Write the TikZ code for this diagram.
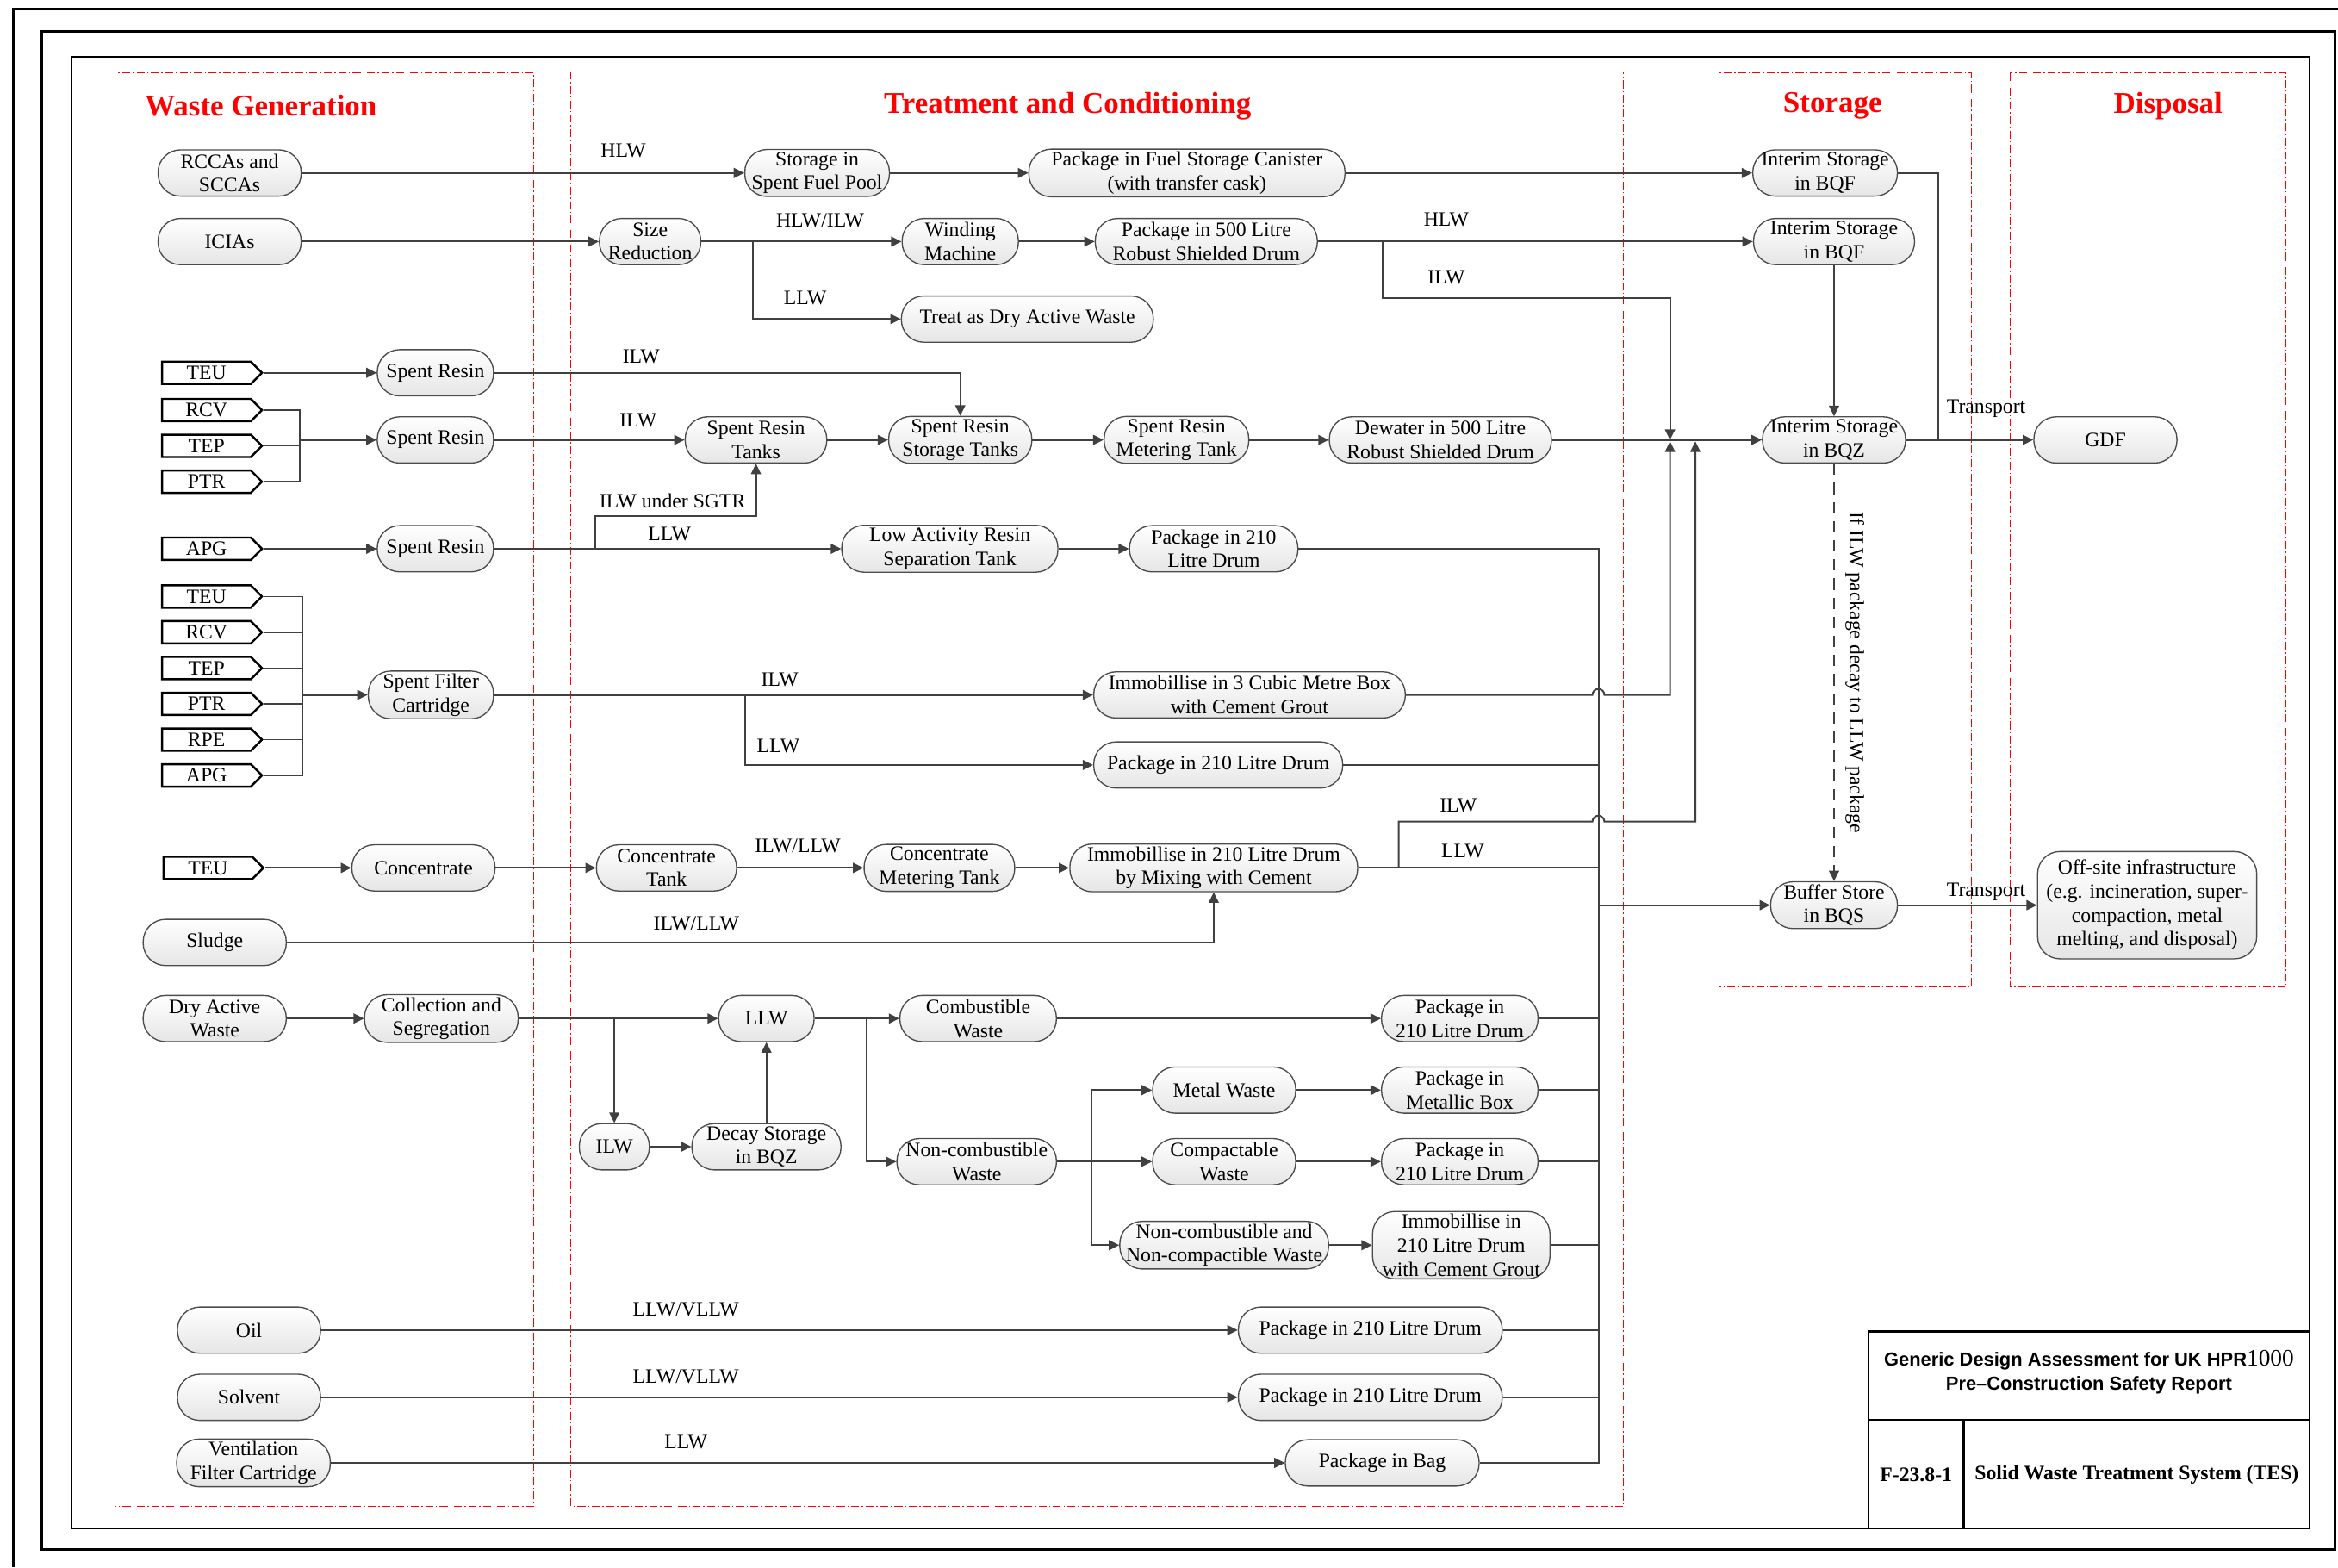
\documentclass[tikz,border=0pt]{standalone}
\usepackage{fontspec}
\setmainfont{Liberation Serif}
\newfontfamily\arialfont{Liberation Sans}
\usetikzlibrary{shapes.symbols,arrows.meta}
\newcommand\flowfont{\fontsize{7.8}{9.1}\selectfont}
\newcommand\zonefont{\bfseries\fontsize{11.5}{13}\selectfont}
\begin{document}
\begin{tikzpicture}[x=0.02cm,y=-0.02cm,>={Stealth[length=4pt,width=3.8pt,inset=0pt]},
  proc/.style={draw=black!70,line width=0.45pt,rounded corners=0.3cm,top color=white,bottom color=black!10,
    align=center,inner sep=1pt,minimum height=0.62cm,font=\flowfont},
  srctag/.style={shape=signal,signal to=east,draw,line width=0.8pt,fill=white,anchor=west,
    minimum width=1.34cm,minimum height=0.3cm,inner sep=0pt,font=\flowfont},
  lbl/.style={inner sep=1pt,font=\flowfont},
  flow/.style={draw=black!75,line width=0.65pt},
  feed/.style={draw=black!75,line width=0.45pt},
  zone/.style={draw=red,line width=0.35pt,dash pattern=on 3pt off 1pt on 0.5pt off 1pt},
  zonetitle/.style={text=red,font=\zonefont}]
  \useasboundingbox (0,0) rectangle (1568,1051);
  \draw[line width=1.1pt] (9,1051) -- (9,6) -- (1568,6);
  \draw[line width=1.1pt] (28,21) rectangle (1566,1039);
  \draw[line width=0.5pt] (48,38) rectangle (1549,1025);

  \draw[zone] (77,49) rectangle (358,1010);
  \draw[zone] (383,48) rectangle (1089,1010);
  \draw[zone] (1153,49) rectangle (1322,662);
  \draw[zone] (1348,49) rectangle (1533,662);
  \node[zonetitle] (tgen) at (175,71) {Waste Generation};
  \node[zonetitle] (ttreat) at (716,71) {Treatment and Conditioning};
  \node[zonetitle] (tstore) at (1229,71) {Storage};
  \node[zonetitle] (tdisp) at (1454,71) {Disposal};

  \node[proc,minimum width=1.92cm] (rccas) at (154,116) {RCCAs and\\SCCAs};
  \node[proc,minimum width=1.94cm] (spf) at (548,116) {Storage in\\Spent Fuel Pool};
  \node[proc,minimum width=4.24cm] (fsc) at (796,116) {Package in Fuel Storage Canister\\(with transfer cask)};
  \node[proc,minimum width=1.94cm] (bqf1) at (1224,116) {Interim Storage\\in BQF};

  \node[proc,minimum width=1.92cm] (icias) at (154,162) {ICIAs};
  \node[proc,minimum width=1.36cm] (sizered) at (436,162) {Size\\Reduction};
  \node[proc,minimum width=1.56cm] (winding) at (644,162) {Winding\\Machine};
  \node[proc,minimum width=2.98cm] (pkg500) at (809,162) {Package in 500 Litre\\Robust Shielded Drum};
  \node[proc,minimum width=2.16cm] (bqf2) at (1230,162) {Interim Storage\\in BQF};
  \node[proc,minimum width=3.38cm] (treat) at (689,214) {Treat as Dry Active Waste};
  \coordinate (jsize) at (505,162);
  \coordinate (jilw) at (927,162);

  \node[srctag] (teu1) at (108,250) {TEU};
  \node[srctag] (rcv1) at (108,275) {RCV};
  \node[srctag] (tep1) at (108,299) {TEP};
  \node[srctag] (ptr1) at (108,323) {PTR};
  \node[srctag] (apg1) at (108,368) {APG};
  \coordinate (brk1) at (201,295);
  \node[proc,minimum width=1.56cm] (sr1) at (292,250) {Spent Resin};
  \node[proc,minimum width=1.56cm] (sr2) at (292,295) {Spent Resin};
  \node[proc,minimum width=1.56cm] (sr3) at (292,368) {Spent Resin};
  \node[proc,minimum width=1.9cm] (srt) at (507,295) {Spent Resin\\Tanks};
  \node[proc,minimum width=1.92cm] (srst) at (644,295) {Spent Resin\\Storage Tanks};
  \node[proc,minimum width=1.94cm] (srmt) at (789,295) {Spent Resin\\Metering Tank};
  \node[proc,minimum width=2.98cm] (dew) at (966,295) {Dewater in 500 Litre\\Robust Shielded Drum};
  \node[proc,minimum width=1.92cm] (bqz) at (1230,295) {Interim Storage\\in BQZ};
  \node[proc,minimum width=1.92cm] (gdf) at (1412,295) {GDF};
  \node[proc,minimum width=2.9cm] (lars) at (637,368) {Low Activity Resin\\Separation Tank};
  \node[proc,minimum width=2.26cm] (pkg210a) at (814,368) {Package in 210\\Litre Drum};
  \coordinate (jsgtr) at (399,368);

  \node[srctag] (teu2) at (108,400) {TEU};
  \node[srctag] (rcv2) at (108,424) {RCV};
  \node[srctag] (tep2) at (108,448) {TEP};
  \node[srctag] (ptr2) at (108,472) {PTR};
  \node[srctag] (rpe) at (108,496) {RPE};
  \node[srctag] (apg2) at (108,520) {APG};
  \coordinate (brk2) at (203,466);
  \node[proc,minimum width=1.68cm] (sfc) at (289,466) {Spent Filter\\Cartridge};
  \node[proc,minimum width=4.18cm] (box3) at (838,466) {Immobillise in 3 Cubic Metre Box\\with Cement Grout};
  \node[proc,minimum width=3.34cm] (pkg210b) at (817,513) {Package in 210 Litre Drum};
  \coordinate (jsfc) at (500,466);

  \node[srctag] (teu3) at (109,582) {TEU};
  \node[proc,minimum width=1.92cm] (conc) at (284,582) {Concentrate};
  \node[proc,minimum width=1.88cm] (conct) at (447,582) {Concentrate\\Tank};
  \node[proc,minimum width=2.02cm] (concmt) at (630,582) {Concentrate\\Metering Tank};
  \node[proc,minimum width=3.86cm] (imm210) at (814,582) {Immobillise in 210 Litre Drum\\by Mixing with Cement};
  \node[proc,minimum width=1.92cm] (sludge) at (144,632) {Sludge};
  \coordinate (jconc) at (938,582);

  \node[proc,minimum width=1.92cm] (daw) at (144,683) {Dry Active\\Waste};
  \node[proc,minimum width=2.06cm] (cas) at (296,683) {Collection and\\Segregation};
  \node[proc,minimum width=1.28cm] (llw) at (514,683) {LLW};
  \node[proc,minimum width=0.94cm] (ilw) at (412,769) {ILW};
  \node[proc,minimum width=2cm] (decay) at (514,769) {Decay Storage\\in BQZ};
  \node[proc,minimum width=2.1cm] (comb) at (656,683) {Combustible\\Waste};
  \node[proc,minimum width=2.14cm] (noncomb) at (655,779) {Non-combustible\\Waste};
  \node[proc,minimum width=1.92cm] (metal) at (821,731) {Metal Waste};
  \node[proc,minimum width=1.92cm] (compact) at (821,779) {Compactable\\Waste};
  \node[proc,minimum width=2.8cm] (ncnc) at (821,835) {Non-combustible and\\Non-compactible Waste};
  \node[proc,minimum width=2.1cm] (pkgc) at (979,683) {Package in\\210 Litre Drum};
  \node[proc,minimum width=2.1cm] (pkgmb) at (979,731) {Package in\\Metallic Box};
  \node[proc,minimum width=2.1cm] (pkgcw) at (979,779) {Package in\\210 Litre Drum};
  \node[proc,minimum width=2.38cm] (immg) at (980,835) {Immobillise in\\210 Litre Drum\\with Cement Grout};
  \coordinate (jdaw) at (412,683);
  \coordinate (jllw) at (581,683);
  \coordinate (jnc) at (732,779);

  \node[proc,minimum width=1.92cm] (oil) at (167,892) {Oil};
  \node[proc,minimum width=1.92cm] (solvent) at (167,937) {Solvent};
  \node[proc,minimum width=2.06cm] (vfc) at (170,981) {Ventilation\\Filter Cartridge};
  \node[proc,minimum width=3.54cm] (pkgoil) at (919,892) {Package in 210 Litre Drum};
  \node[proc,minimum width=3.54cm] (pkgsol) at (919,937) {Package in 210 Litre Drum};
  \node[proc,minimum width=2.6cm] (bag) at (927,981) {Package in Bag};
  \coordinate (ctop) at (1072,368);
  \coordinate (cbot) at (1072,981);

  \node[proc,minimum width=1.7cm] (bqs) at (1230,607) {Buffer Store\\in BQS};
  \node[proc,minimum width=2.94cm,minimum height=1.44cm] (offsite) at (1440,607) {Off-site infrastructure\\(e.g. incineration, super-\\compaction, metal\\melting, and disposal)};

  \node[lbl] (lhlw1) at (418,101) {HLW};
  \node[lbl] (lhlwilw) at (550,148) {HLW/ILW};
  \node[lbl] (lllw1) at (540,200) {LLW};
  \node[lbl] (lhlw2) at (970,147) {HLW};
  \node[lbl] (lilw1) at (970,186) {ILW};
  \node[lbl] (lilw2) at (430,239) {ILW};
  \node[lbl] (lilw3) at (428,282) {ILW};
  \node[lbl] (lsgtr) at (451,336) {ILW under SGTR};
  \node[lbl] (lllw2) at (449,358) {LLW};
  \node[lbl] (lilw4) at (523,456) {ILW};
  \node[lbl] (lllw3) at (522,500) {LLW};
  \node[lbl] (lilw5) at (978,540) {ILW};
  \node[lbl] (lilwllw1) at (535,567) {ILW/LLW};
  \node[lbl] (lllw4) at (981,571) {LLW};
  \node[lbl] (lilwllw2) at (467,619) {ILW/LLW};
  \node[lbl] (lvllw1) at (460,878) {LLW/VLLW};
  \node[lbl] (lvllw2) at (460,923) {LLW/VLLW};
  \node[lbl] (lllw5) at (460,967) {LLW};
  \node[lbl] (ltr1) at (1332,274) {Transport};
  \node[lbl] (ltr2) at (1332,598) {Transport};
  \node[lbl,rotate=-90] (ldecay) at (1244,451) {If ILW package decay to LLW package};

  \draw[flow,->] (rccas) -- (spf);
  \draw[flow,->] (spf) -- (fsc);
  \draw[flow,->] (fsc) -- (bqf1);
  \draw[flow,->] (icias) -- (sizered);
  \draw[flow,->] (sizered) -- (winding);
  \draw[flow,->] (winding) -- (pkg500);
  \draw[flow,->] (pkg500) -- (bqf2);
  \draw[flow,->] (jsize) |- (treat);
  \draw[flow,->] (jilw) |- (1120,200) -- (1120,295);

  \draw[flow,->] (teu1.east) -- (sr1);
  \draw[feed] (rcv1.east) -| (brk1) |- (ptr1.east);
  \draw[feed] (tep1.east) -- (tep1.east -| brk1);
  \draw[flow,->] (brk1) -- (sr2);
  \draw[flow,->] (apg1.east) -- (sr3);
  \draw[flow,->] (sr1) -| (srst);
  \draw[flow,->] (sr2) -- (srt);
  \draw[flow,->] (srt) -- (srst);
  \draw[flow,->] (srst) -- (srmt);
  \draw[flow,->] (srmt) -- (dew);
  \draw[flow,->] (dew) -- (bqz);
  \draw[flow,->] (bqf2) -- (bqz);
  \draw[flow] (bqf1) -| (1300,295);
  \draw[flow,->] (bqz) -- (gdf);
  \draw[flow,->] (sr3) -- (lars);
  \draw[flow,->] (jsgtr) |- (507,346) -- (srt);
  \draw[flow,->] (lars) -- (pkg210a);
  \draw[flow] (pkg210a) -- (ctop) -- (cbot) -- (bag);

  \draw[feed] (teu2.east) -| (brk2) |- (apg2.east);
  \draw[feed] (rcv2.east) -- (rcv2.east -| brk2);
  \draw[feed] (tep2.east) -- (tep2.east -| brk2);
  \draw[feed] (ptr2.east) -- (ptr2.east -| brk2);
  \draw[feed] (rpe.east) -- (rpe.east -| brk2);
  \draw[flow,->] (brk2) -- (sfc);
  \draw[flow,->] (sfc) -- (box3);
  \draw[flow,->] (jsfc) |- (pkg210b);
  \draw[flow,->] (box3) -- (1068,466) arc[start angle=180,end angle=360,radius=4] -- (1120,466) -- (1120,296);
  \draw[flow] (pkg210b) -- (pkg210b -| ctop);

  \draw[flow,->] (teu3.east) -- (conc);
  \draw[flow,->] (conc) -- (conct);
  \draw[flow,->] (conct) -- (concmt);
  \draw[flow,->] (concmt) -- (imm210);
  \draw[flow] (imm210) -- (imm210 -| ctop);
  \draw[flow,->] (jconc) |- (1068,551) arc[start angle=180,end angle=360,radius=4] -- (1137,551) -- (1137,296);
  \draw[flow,->] (sludge) -| (imm210);

  \draw[flow,->] (daw) -- (cas);
  \draw[flow,->] (cas) -- (llw);
  \draw[flow,->] (jdaw) -- (ilw);
  \draw[flow,->] (ilw) -- (decay);
  \draw[flow,->] (decay) -- (llw);
  \draw[flow,->] (llw) -- (comb);
  \draw[flow,->] (jllw) |- (noncomb);
  \draw[flow,->] (comb) -- (pkgc);
  \draw[flow,->] (noncomb) -- (compact);
  \draw[flow,->] (jnc) |- (metal);
  \draw[flow,->] (jnc) |- (ncnc);
  \draw[flow,->] (metal) -- (pkgmb);
  \draw[flow,->] (compact) -- (pkgcw);
  \draw[flow,->] (ncnc) -- (immg);
  \draw[flow] (pkgc) -- (pkgc -| ctop);
  \draw[flow] (pkgmb) -- (pkgmb -| ctop);
  \draw[flow] (pkgcw) -- (pkgcw -| ctop);
  \draw[flow] (immg) -- (immg -| ctop);

  \draw[flow,->] (oil) -- (pkgoil);
  \draw[flow,->] (solvent) -- (pkgsol);
  \draw[flow,->] (vfc) -- (bag);
  \draw[flow] (pkgoil) -- (pkgoil -| ctop);
  \draw[flow] (pkgsol) -- (pkgsol -| ctop);

  \draw[flow,->] (ctop |- bqs) -- (bqs);
  \draw[flow,->] (bqs) -- (offsite);
  \draw[flow,->,dash pattern=on 4.4pt off 2.9pt] (bqz) -- (bqs);

  \draw[line width=0.8pt] (1253,893) rectangle (1549,1025);
  \draw[line width=0.8pt] (1253,952) -- (1549,952);
  \draw[line width=0.8pt] (1317,952) -- (1317,1025);
  \node[align=center,font=\arialfont\bfseries\fontsize{7.2}{9.2}\selectfont] (gda) at (1401,920) {Generic Design Assessment for UK HPR{\rmfamily\mdseries\fontsize{9}{9.2}\selectfont 1000}\\Pre–Construction Safety Report};
  \node[font=\bfseries\flowfont] (fignum) at (1285,989) {F-23.8-1};
  \node[font=\bfseries\flowfont] (figtitle) at (1433,989) {Solid Waste Treatment System (TES)};
\end{tikzpicture}
\end{document}
